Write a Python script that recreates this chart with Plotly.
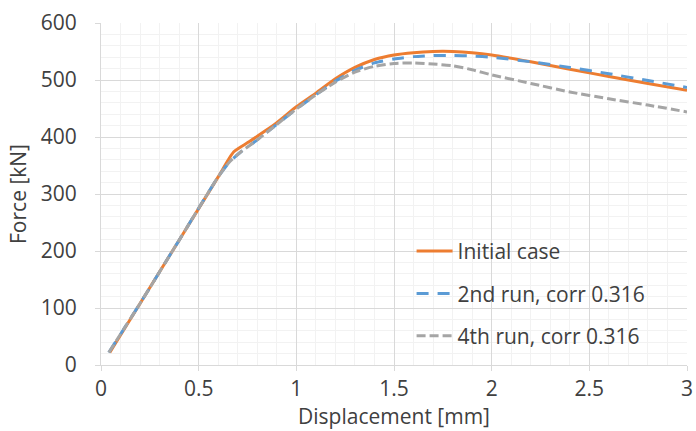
import plotly.graph_objects as go

# Displacement [mm]
x_initial = [0.045, 0.2, 0.4, 0.6, 0.68, 0.76, 0.9, 1.0, 1.1, 1.2, 1.3, 1.4, 1.5, 1.6, 1.7, 1.8, 1.9, 2.0, 2.2, 2.4, 2.6, 2.8, 3.0]
y_initial = [22, 108, 219, 330, 374, 392, 425, 453, 477, 502, 522, 536, 544, 548, 550, 550, 548, 544, 532, 519, 506, 494, 482]

x_run2 = [0.04, 0.2, 0.4, 0.6, 0.66, 0.72, 0.8, 0.9, 1.0, 1.1, 1.2, 1.3, 1.4, 1.5, 1.6, 1.7, 1.8, 1.9, 2.0, 2.2, 2.4, 2.6, 2.8, 3.0]
y_run2 = [22, 108, 219, 330, 357, 375, 395, 422, 449, 474, 498, 517, 530, 537, 541, 543, 543, 542, 540, 532, 522, 511, 499, 487]

x_run4 = [0.04, 0.2, 0.4, 0.6, 0.66, 0.72, 0.8, 0.9, 1.0, 1.1, 1.2, 1.3, 1.4, 1.5, 1.6, 1.7, 1.8, 1.9, 2.0, 2.2, 2.4, 2.6, 2.8, 3.0]
y_run4 = [22, 108, 219, 330, 357, 375, 395, 422, 449, 474, 496, 514, 524, 529, 530, 528, 525, 518, 509, 494, 479, 467, 456, 444]

names = ["Initial case", "2nd run, corr 0.316", "4th run, corr 0.316"]
colors = ["#ED7D31", "#5B9BD5", "#A5A5A5"]
dashes = ["solid", "12px,9px", "9px,4px"]

FONT = "Open Sans"
FS = 21
TXT = "#404040"

fig = go.Figure()
for i, (xs, ys) in enumerate([(x_initial, y_initial), (x_run2, y_run2), (x_run4, y_run4)]):
    fig.add_trace(go.Scatter(
        x=xs, y=ys, mode="lines", name=names[i], legendgroup=f"g{i}",
        line=dict(color=colors[i], width=3, dash=dashes[i], shape="spline", smoothing=0.6),
    ))

fig.update_layout(
    width=696, height=431,
    margin=dict(l=101, r=9, t=23, b=66),
    paper_bgcolor="white", plot_bgcolor="white",
    font=dict(family=FONT, size=FS, color=TXT),
    showlegend=True,
    legend=dict(
        x=0.53, y=0.392, xanchor="left", yanchor="top",
        bgcolor="rgba(0,0,0,0)", traceorder="grouped", tracegroupgap=12,
        itemwidth=36,
        font=dict(family=FONT, size=FS, color=TXT),
    ),
    xaxis=dict(
        range=[0, 3], dtick=0.5, tick0=0, automargin=False,
        showgrid=True, gridcolor="#D9D9D9", gridwidth=1,
        minor=dict(dtick=0.1, showgrid=True, gridcolor="#F2F2F2", gridwidth=1),
        showline=True, linecolor="#D9D9D9", linewidth=1,
        ticks="outside", ticklen=5, tickcolor="#D9D9D9",
        zeroline=False,
        title=dict(text="Displacement [mm]", standoff=0, font=dict(size=FS, color=TXT)),
        tickfont=dict(size=FS, color=TXT),
    ),
    yaxis=dict(
        range=[0, 600], dtick=100, tick0=0, automargin=False,
        showgrid=True, gridcolor="#D9D9D9", gridwidth=1,
        minor=dict(dtick=20, showgrid=True, gridcolor="#F2F2F2", gridwidth=1),
        showline=True, linecolor="#D9D9D9", linewidth=1,
        ticks="outside", ticklen=5, tickcolor="#D9D9D9",
        zeroline=False,
        ticklabelstandoff=14,
        title=dict(text="Force [kN]", standoff=8, font=dict(size=FS, color=TXT)),
        tickfont=dict(size=FS, color=TXT),
    ),
)

fig.write_html(
    "out.html",
    config={"displayModeBar": False},
    post_script="document.body.style.margin='0';document.body.style.overflow='hidden';",
)
